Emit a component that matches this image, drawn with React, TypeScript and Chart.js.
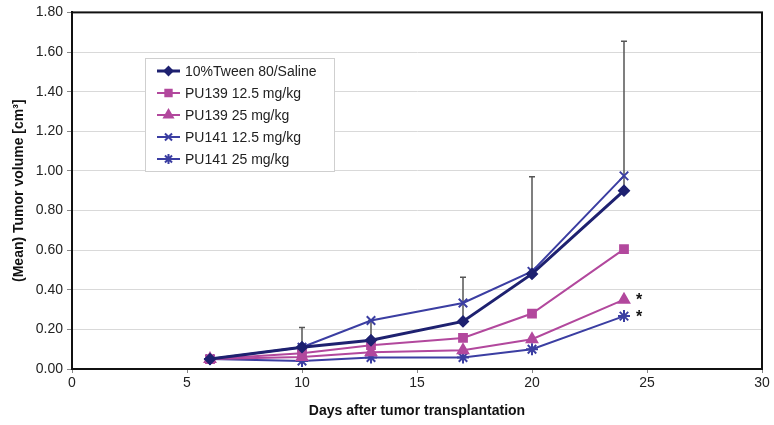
import React, { useEffect, useRef } from "react";
import { Chart, registerables } from "chart.js";
import { drawPoint } from "chart.js/helpers";

Chart.register(...registerables);

const days = [6, 10, 13, 17, 20, 24];
const tween = [0.05, 0.11, 0.145, 0.24, 0.48, 0.9];
const tweenSD = [0, 0.1, 0.1, 0.223, 0.49, 0.755];
const pu139Low = [0.05, 0.08, 0.12, 0.157, 0.28, 0.605];
const pu139High = [0.05, 0.06, 0.085, 0.095, 0.15, 0.35];
const pu141Low = [0.05, 0.11, 0.245, 0.333, 0.493, 0.975];
const pu141High = [0.05, 0.04, 0.058, 0.058, 0.1, 0.267];
const seriesLabels = [
  "10%Tween 80/Saline",
  "PU139 12.5 mg/kg",
  "PU139 25 mg/kg",
  "PU141 12.5 mg/kg",
  "PU141 25 mg/kg",
];
const significant = [2, 4];
const xTicks = [0, 5, 10, 15, 20, 25, 30];
const yTicks = [0, 0.2, 0.4, 0.6, 0.8, 1.0, 1.2, 1.4, 1.6, 1.8];

const NAVY = "#1e2170";
const PINK = "#b2489d";
const BLUE = "#3b3ea2";
const FONT = "'Liberation Sans', Arial, sans-serif";

export default function App() {
  const ref = useRef<HTMLCanvasElement | null>(null);
  useEffect(() => {
    document.body.style.margin = "0";
    const canvas = ref.current!;
    const mk = (vals: number[]) => days.map((d, i) => ({ x: d, y: vals[i] }));
    const specs = [
      { data: tween, color: NAVY, style: "rectRot", r: 5, bw: 3 },
      { data: pu139Low, color: PINK, style: "rect", r: 5.5, bw: 2 },
      { data: pu139High, color: PINK, style: "triangle", r: 6, bw: 2 },
      { data: pu141Low, color: BLUE, style: "crossRot", r: 6, bw: 2 },
      { data: pu141High, color: BLUE, style: "star", r: 6, bw: 2 },
    ];
    const datasets = specs.map((s, i) => ({
      label: seriesLabels[i],
      data: mk(s.data),
      borderColor: s.color,
      backgroundColor: s.color,
      borderWidth: s.bw,
      pointStyle: s.style as any,
      pointRadius: s.r,
      pointBorderWidth: 2,
      pointBackgroundColor: s.color,
      pointBorderColor: s.color,
      tension: 0,
    }));

    const framePlugin = {
      id: "frame",
      beforeDatasetsDraw(chart: any) {
        const { ctx, scales } = chart;
        ctx.save();
        ctx.strokeStyle = "#555";
        ctx.lineWidth = 1.5;
        days.forEach((d, i) => {
          if (!tweenSD[i]) return;
          const x = scales.x.getPixelForValue(d);
          const y0 = scales.y.getPixelForValue(tween[i]);
          const y1 = scales.y.getPixelForValue(tween[i] + tweenSD[i]);
          ctx.beginPath();
          ctx.moveTo(x, y0);
          ctx.lineTo(x, y1);
          ctx.moveTo(x - 3, y1);
          ctx.lineTo(x + 3, y1);
          ctx.stroke();
        });
        ctx.restore();
      },
      afterDatasetsDraw(chart: any) {
        const { ctx, chartArea: a, scales } = chart;
        ctx.save();
        ctx.strokeStyle = "#111";
        ctx.lineWidth = 2;
        ctx.strokeRect(a.left, a.top, a.right - a.left, a.bottom - a.top);
        ctx.fillStyle = "#111";
        ctx.font = `bold 16px ${FONT}`;
        ctx.textAlign = "center";
        ctx.textBaseline = "middle";
        const last = days.length - 1;
        significant.forEach((si) => {
          const vals = specs[si].data;
          const x = scales.x.getPixelForValue(days[last]) + 15;
          const y = scales.y.getPixelForValue(vals[last]);
          ctx.fillText("*", x, y + 1);
        });
        const bx = 145, by = 58, bw = 189, bh = 113;
        ctx.fillStyle = "#fff";
        ctx.fillRect(bx, by, bw, bh);
        ctx.strokeStyle = "#cfcfcf";
        ctx.lineWidth = 1;
        ctx.strokeRect(bx + 0.5, by + 0.5, bw, bh);
        ctx.font = `14px ${FONT}`;
        ctx.textAlign = "left";
        ctx.textBaseline = "middle";
        specs.forEach((s, i) => {
          const y = by + 13 + i * 22;
          ctx.strokeStyle = s.color;
          ctx.lineWidth = s.bw;
          ctx.beginPath();
          ctx.moveTo(157, y);
          ctx.lineTo(180, y);
          ctx.stroke();
          ctx.fillStyle = s.color;
          ctx.lineWidth = 2;
          drawPoint(ctx, { pointStyle: s.style as any, radius: s.r - 1, borderWidth: 2, rotation: 0 } as any, 168.5, y);
          ctx.fillStyle = "#222";
          ctx.fillText(seriesLabels[i], 185, y + 1);
        });
        ctx.restore();
      },
    };

    const chart = new Chart(canvas, {
      type: "line",
      data: { datasets: datasets as any },
      options: {
        responsive: false,
        animation: false,
        layout: { padding: { top: 10, right: 12, left: 0, bottom: 0 } },
        plugins: { legend: { display: false }, tooltip: { enabled: false } },
        scales: {
          x: {
            type: "linear",
            min: 0,
            max: 30,
            afterBuildTicks: (s: any) => {
              s.ticks = xTicks.map((v) => ({ value: v }));
            },
            afterFit: (s: any) => {
              s.height = 56;
            },
            grid: { drawOnChartArea: false, drawTicks: true, tickLength: 4, color: "#888" },
            border: { color: "#111", width: 2 },
            ticks: { color: "#222", font: { family: FONT, size: 14 }, padding: 2, maxRotation: 0 },
            title: {
              display: true,
              text: "Days after tumor transplantation",
              color: "#111",
              font: { family: FONT, size: 14, weight: "bold" },
              padding: { top: 0, bottom: 5 },
            },
          },
          y: {
            type: "linear",
            min: 0,
            max: 1.8,
            afterBuildTicks: (s: any) => {
              s.ticks = yTicks.map((v) => ({ value: v }));
            },
            afterFit: (s: any) => {
              s.width = 72;
            },
            grid: { color: "#d9d9d9", lineWidth: 1, tickLength: 5, tickColor: "#888" },
            border: { color: "#111", width: 2 },
            ticks: {
              color: "#222",
              font: { family: FONT, size: 14 },
              padding: 4,
              callback: (v: any) => Number(v).toFixed(2),
            },
            title: {
              display: true,
              text: "(Mean) Tumor volume [cm³]",
              color: "#111",
              font: { family: FONT, size: 14, weight: "bold" },
              padding: { top: 11, bottom: 0 },
            },
          },
        },
      },
      plugins: [framePlugin],
    });
    return () => chart.destroy();
  }, []);
  return <canvas ref={ref} width={774} height={425} style={{ display: "block" }} />;
}
